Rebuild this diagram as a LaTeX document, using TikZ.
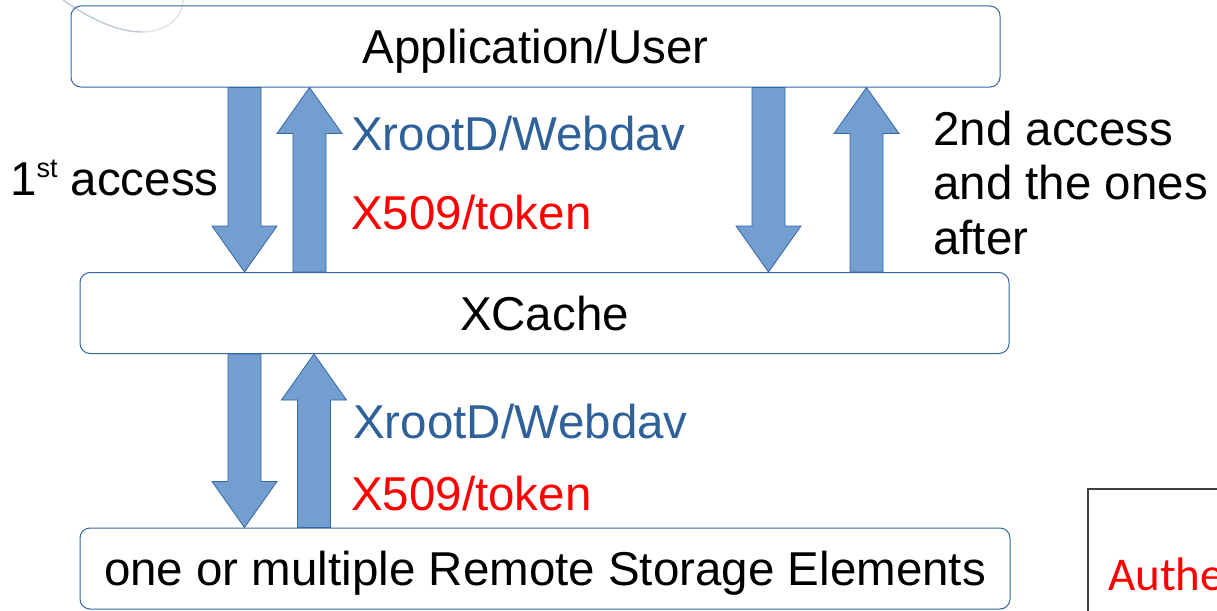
\documentclass[tikz,border=0pt]{standalone}
\usepackage{fontspec}
\setmainfont{Liberation Sans}
\newfontfamily\calib{Carlito}
\usetikzlibrary{calc}
\definecolor{boxblue}{HTML}{3465A4}
\definecolor{arrfill}{HTML}{729FCF}
\definecolor{txtblue}{HTML}{2E6099}
\definecolor{curvec}{HTML}{A3B3CA}
\definecolor{curved}{HTML}{DFE5EE}
\begin{document}
\begin{tikzpicture}[x=1pt,y=-1pt,
  big/.style={font=\fontsize{47.5}{54.5}\selectfont, inner sep=0pt},
  box/.style={big, draw=boxblue, line width=1pt, rounded corners=10pt,
    minimum width=929pt, minimum height=81pt, text height=34pt, text depth=0pt},
  downblk/.style={draw=boxblue, fill=arrfill, line width=0.8pt,
    to path={let \p1=(\tikztostart), \p2=(\tikztotarget) in
      (\x1-16.5pt,\y1) -- (\x1+16.5pt,\y1) -- (\x1+16.5pt,\y2+46pt) -- (\x1+32.5pt,\y2+46pt)
      -- (\x2,\y2) -- (\x1-32.5pt,\y2+46pt) -- (\x1-16.5pt,\y2+46pt) -- cycle}},
  upblk/.style={draw=boxblue, fill=arrfill, line width=0.8pt,
    to path={let \p1=(\tikztostart), \p2=(\tikztotarget) in
      (\x1-16.5pt,\y1) -- (\x1+16.5pt,\y1) -- (\x1+16.5pt,\y2-46pt) -- (\x1+32.5pt,\y2-46pt)
      -- (\x2,\y2) -- (\x1-32.5pt,\y2-46pt) -- (\x1-16.5pt,\y2-46pt) -- cycle}}
]
\useasboundingbox (0,0) rectangle (1217,610);
\clip (0,0) rectangle (1217,610);

% faint background curve
\draw[curvec, line width=1.4pt, opacity=0.7] (63,0) .. controls (95,22) and (120,32) .. (143,32);
\draw[curved, line width=1.4pt] (143,32) .. controls (170,31) and (183,15) .. (183,0);

% boxes
\node[box] (app) at (535.5,46.5) {Application/User};
\node[box] (cache) at (544.5,313) {XCache};
\node[box, minimum width=930pt] (rse) at (545,568.5) {one or multiple Remote Storage Elements};

% arrow x positions
\coordinate (xa) at (244.5,0);
\coordinate (xb) at (309.5,0);
\coordinate (xc) at (768.5,0);
\coordinate (xd) at (866.5,0);
\coordinate (xe) at (244.5,0);
\coordinate (xf) at (314,0);

\draw[downblk] (app.south -| xa) to (cache.north -| xa);
\draw[upblk] (cache.north -| xb) to (app.south -| xb);
\draw[downblk] (app.south -| xc) to (cache.north -| xc);
\draw[upblk] (cache.north -| xd) to (app.south -| xd);
\draw[downblk] (cache.south -| xe) to (rse.north -| xe);
\draw[upblk] (rse.north -| xf) to (cache.south -| xf);

% labels
\node[big, anchor=base west] (first) at (10,195)
  {1\raisebox{18pt}{\fontsize{27}{30}\selectfont st} access};
\node[big, anchor=base west, text=txtblue] (proto1) at (351,150) {XrootD/Webdav};
\node[big, anchor=base west, text=red] (auth1) at (351,229) {X509/token};
\node[big, anchor=base west, text=txtblue] (proto2) at (353,438) {XrootD/Webdav};
\node[big, anchor=base west, text=red] (auth2) at (351,510) {X509/token};
\node[big, anchor=base west, align=left] (second) at (933,254) {2nd access\\and the ones\\after};

% cut-off legend box
\draw[black!75, line width=1.2pt] (1088,611) -- (1088,489) -- (1220,489);
\node[big, anchor=base west, text=red, font=\calib\fontsize{47}{54}\selectfont] (legend) at (1108,590) {Authe};
\end{tikzpicture}
\end{document}
